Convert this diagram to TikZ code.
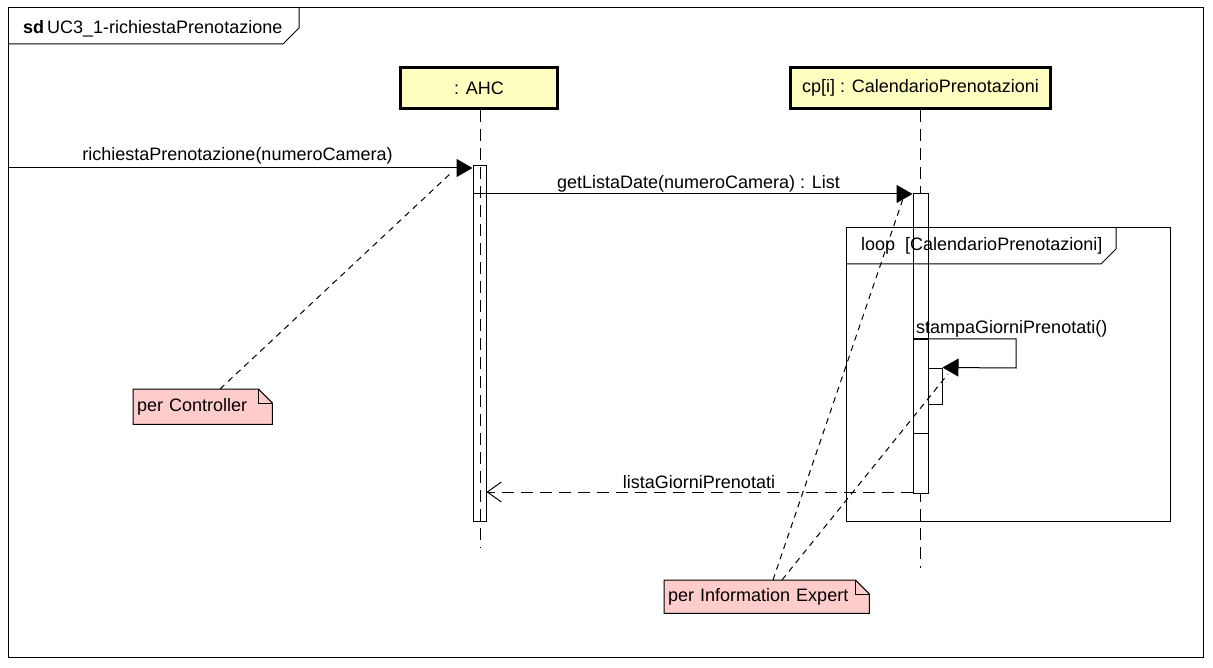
\documentclass[tikz,border=0pt]{standalone}
\usepackage{fontspec}
\setmainfont{Liberation Sans}
\usetikzlibrary{arrows.meta,calc,backgrounds}
\definecolor{lifefill}{RGB}{255,255,192}
\definecolor{notefill}{RGB}{255,204,204}
\begin{document}
\begin{tikzpicture}[x=1pt,y=-1pt, font=\fontsize{18}{21}\selectfont,
  thin1/.style={line width=1pt},
  lifebox/.style={draw, line width=3pt, fill=lifefill, minimum height=41pt, inner sep=0pt},
  lifeline/.style={draw, line width=1pt, dash pattern=on 12pt off 7pt},
  act/.style={draw, line width=1pt, inner sep=0pt},
  msg/.style={draw, line width=1pt, -{Triangle[length=16pt,width=18pt]}},
  ret/.style={draw, line width=1pt, dash pattern=on 12pt off 7pt, -{Straight Barb[length=14pt,width=20pt]}},
  notelink/.style={draw, line width=1pt, dash pattern=on 6pt off 5pt},
  notebox/.style={inner ysep=0pt, inner xsep=4pt, anchor=north west, align=left},
  lbl/.style={anchor=base, inner sep=0pt},
  lblw/.style={anchor=base west, inner sep=0pt},
]
\useasboundingbox (0,0) rectangle (1213,668);

% outer frame
\draw[thin1] (8,8) rectangle (1203,657);
\draw[thin1] (8,44) -- (283,44) -- (299,28) -- (299,8);
\node[lblw] (title) at (23,34) {\textbf{sd}\hspace{3pt}UC3\_1-richiestaPrenotazione};

% lifeline heads
\node[lifebox, minimum width=157pt] (ahc) at (479,88) {: AHC};
\node[lifebox, minimum width=260pt] (cp) at (920.5,88) {cp[i] : CalendarioPrenotazioni};

% lifelines
\coordinate (ahcend) at (480,548);
\coordinate (cpend) at (920.5,568);
\draw[lifeline] (ahc.south -| ahcend) -- (ahcend);
\draw[lifeline] (cp.south) -- (cpend);

% activations
\node[act, minimum width=13pt, minimum height=355pt] (a1) at (479.5,343.5) {};
\node[act, fill=white, minimum width=15pt, minimum height=299pt] (a2) at (920.5,343.5) {};
\node[act, fill=white, minimum width=14pt, minimum height=36pt] (a3) at (935,386) {};
\draw[thin1] (a2.west |- a3.south) ++(0,29) -- +(15,0);

% loop fragment
\draw[thin1] (846,228) rectangle (1170,521);
\draw[thin1] (846,264) -- (1101,264) -- (1116,249) -- (1116,228);
\node[lblw] (loopl) at (861,251) {loop\ \ [CalendarioPrenotazioni]};

% message 1
\coordinate (m1s) at (8,168);
\draw[msg] (m1s) -- (m1s -| a1.west);
\node[lbl] (m1l) at (237.5,161) {richiestaPrenotazione(numeroCamera)};

% message 2
\coordinate (m2s) at (473,194);
\draw[msg] (m2s) -- (m2s -| a2.west);
\node[lbl] (m2l) at (698.5,189) {getListaDate(numeroCamera) : List};

% self message
\coordinate (s1) at (913,339);
\draw[line width=2pt] (s1) -- (s1 -| a2.east);
\draw[msg] (s1) -- (1016,339) -- (1016,368) -- (a3.north east);
\node[lblw] (sl) at (916,334) {stampaGiorniPrenotati()};

% return
\coordinate (r1) at (913,492);
\draw[ret] (r1) -- (r1 -| a1.east);
\node[lbl] (rl) at (699,488) {listaGiorniPrenotati};

% notes
\node[notebox, text width=131pt, minimum height=35pt] (n1) at (133,389) {per Controller};
\node[notebox, text width=197pt, minimum height=33pt] (n2) at (664,580) {per Information Expert};
\begin{scope}[on background layer]
  \foreach \n in {n1,n2}{
    \draw[thin1, fill=notefill] (\n.north west) -- ($(\n.north east)+(-14,0)$) -- ($(\n.north east)+(0,14)$) -- (\n.south east) -- (\n.south west) -- cycle;
    \draw[thin1] ($(\n.north east)+(-14,0)$) -- ($(\n.north east)+(-14,14)$) -- ($(\n.north east)+(0,14)$);
  }
\end{scope}

% note links
\coordinate (t1) at (451,173);
\coordinate (t2) at (906,190);
\coordinate (t3) at (948,374);
\draw[notelink] ($(n1.north west)+(87,0)$) -- (t1);
\draw[notelink] ($(n2.north west)+(109,0)$) -- (t2);
\draw[notelink] ($(n2.north west)+(118,0)$) -- (t3);
\end{tikzpicture}
\end{document}
